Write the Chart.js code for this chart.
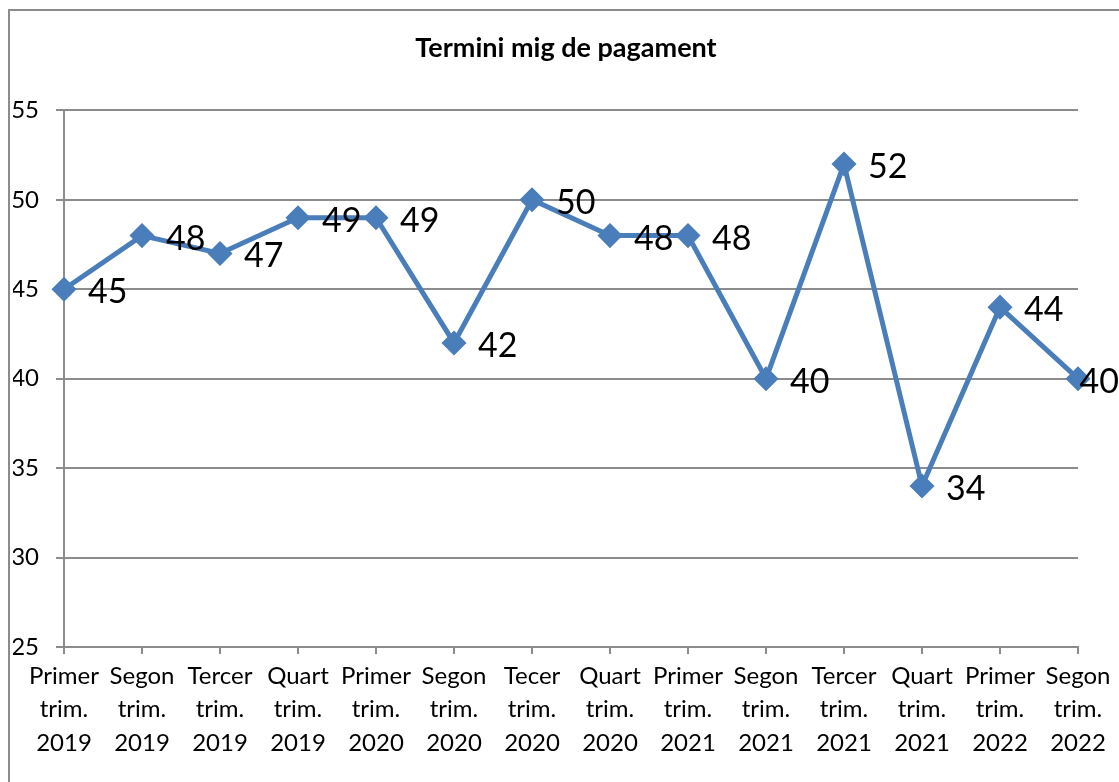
<!DOCTYPE html>
<html>
<head>
<meta charset="utf-8">
<script src="https://cdn.jsdelivr.net/npm/chart.js@4/dist/chart.umd.min.js"></script>
<style>
  html, body { margin: 0; padding: 0; background: #fff; }
  #wrap { width: 1119px; height: 782px; }
</style>
</head>
<body>
<div id="wrap"><canvas id="myChart" width="1119" height="782"></canvas></div>
<script>
// dades del grafic
var quarters = ['Primer', 'Segon', 'Tercer', 'Quart', 'Primer', 'Segon', 'Tecer',
                'Quart', 'Primer', 'Segon', 'Tercer', 'Quart', 'Primer', 'Segon'];
var years = ['2019', '2019', '2019', '2019', '2020', '2020', '2020',
             '2020', '2021', '2021', '2021', '2021', '2022', '2022'];
var terminiMig = [45, 48, 47, 49, 49, 42, 50, 48, 48, 40, 52, 34, 44, 40];
var yTicks = [25, 30, 35, 40, 45, 50, 55];

var labels = quarters.map(function (q, i) { return [q, 'trim.', years[i]]; });

var gray = '#8c8c8c';
var blue = '#4a7ebb';
var font = 'Lato, "Open Sans", sans-serif';

// fons blanc i vora exterior
var frame = {
    id: 'frame',
    beforeDraw: function (chart) {
        var c = chart.ctx;
        c.save();
        c.fillStyle = '#fff';
        c.fillRect(0, 0, chart.width, chart.height);
        c.strokeStyle = gray;
        c.lineWidth = 2;
        c.strokeRect(9, 10, chart.width + 20, chart.height + 20);
        c.restore();
    }
};

// etiquetes de valor a la dreta de cada punt
var valueLabels = {
    id: 'valueLabels',
    afterDatasetsDraw: function (chart) {
        var c = chart.ctx;
        var meta = chart.getDatasetMeta(0);
        c.save();
        c.font = '34px ' + font;
        c.fillStyle = '#000';
        c.textBaseline = 'middle';
        c.textAlign = 'left';
        meta.data.forEach(function (pt, i) {
            var txt = String(terminiMig[i]);
            var w = c.measureText(txt).width;
            var x = Math.min(pt.x + 24, chart.width - w);
            c.fillText(txt, x, pt.y + 3);
        });
        c.restore();
    }
};

var ctx = document.getElementById('myChart').getContext('2d');
var lineChart = new Chart(ctx, {
    type: 'line',
    data: {
        labels: labels,
        datasets: [{
            label: 'Termini mig de pagament',
            data: terminiMig,
            borderColor: blue,
            backgroundColor: blue,
            borderWidth: 5,
            pointStyle: 'rectRot',
            pointRadius: 9,
            pointHoverRadius: 9,
            tension: 0
        }]
    },
    options: {
        responsive: false,
        animation: false,
        events: [],
        layout: { padding: { left: 13, right: 0, top: 0, bottom: 0 } },
        plugins: {
            legend: { display: false },
            tooltip: { enabled: false },
            title: {
                display: true,
                text: 'Termini mig de pagament',
                color: '#000',
                font: { family: font, size: 27, weight: 'bold', lineHeight: 1.2 },
                padding: { top: 32, bottom: 46 }
            }
        },
        scales: {
            x: {
                offset: false,
                grid: { display: true, drawOnChartArea: false, color: gray, lineWidth: 2, tickLength: 7 },
                border: { color: gray, width: 2 },
                ticks: {
                    color: '#000',
                    font: { family: font, size: 24, lineHeight: 1.38 },
                    maxRotation: 0,
                    autoSkip: false,
                    padding: 6
                },
                afterFit: function (s) { s.height = 135; }
            },
            y: {
                min: 25,
                max: 55,
                afterBuildTicks: function (s) {
                    s.ticks = yTicks.map(function (v) { return { value: v }; });
                },
                grid: { color: gray, lineWidth: 2, tickLength: 8 },
                border: { color: gray, width: 2 },
                ticks: {
                    color: '#000',
                    font: { family: font, size: 24 },
                    padding: 17
                },
                afterFit: function (s) { s.width = 51; }
            },
            // eix buit a la dreta, nomes per deixar el marge
            yRight: {
                position: 'right',
                grid: { display: false },
                border: { display: false },
                ticks: { display: false },
                afterFit: function (s) { s.width = 41; }
            }
        }
    },
    plugins: [frame, valueLabels]
});
</script>
</body>
</html>
